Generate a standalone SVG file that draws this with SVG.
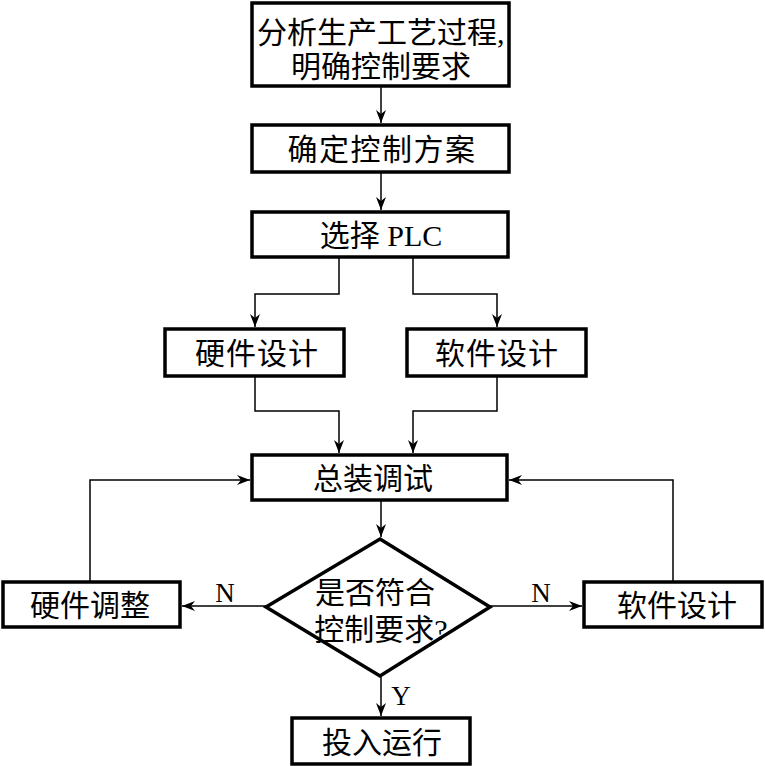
<svg xmlns="http://www.w3.org/2000/svg" width="765" height="766" viewBox="0 0 765 766">
<style>
.box{fill:#fff;stroke:#000;stroke-width:3.5}
.t{font-family:"Liberation Serif","Noto Sans CJK SC",serif;font-size:30px;fill:#000;text-anchor:middle}
.c{fill:none;stroke:#000;stroke-width:1.5}
</style>
<defs>
<marker id="ah" markerUnits="userSpaceOnUse" markerWidth="14" markerHeight="10" refX="13" refY="5" orient="auto">
<path d="M0,0 L13,5 L0,10 L4,5 z" fill="#000"/>
</marker>
</defs>
<rect width="765" height="766" fill="#fff"/>
<g id="connectors">
<path class="c" d="M381,86 V123" marker-end="url(#ah)"/>
<path class="c" d="M381,172 V210" marker-end="url(#ah)"/>
<path class="c" d="M339,257 V294 H255 V327" marker-end="url(#ah)"/>
<path class="c" d="M413,257 V294 H497 V327" marker-end="url(#ah)"/>
<path class="c" d="M255,376 V411 H339 V453" marker-end="url(#ah)"/>
<path class="c" d="M497,376 V411 H413 V453" marker-end="url(#ah)"/>
<path class="c" d="M381,500 V537" marker-end="url(#ah)"/>
<path class="c" d="M381,677 V716" marker-end="url(#ah)"/>
<path class="c" d="M267,606 H182" marker-end="url(#ah)"/>
<path class="c" d="M490,606 H582" marker-end="url(#ah)"/>
<path class="c" d="M90,581 V480 H250" marker-end="url(#ah)"/>
<path class="c" d="M673,581 V480 H509" marker-end="url(#ah)"/>
<text class="t" x="225" y="602" style="font-size:27px">N</text>
<text class="t" x="541" y="602" style="font-size:27px">N</text>
<text class="t" x="401" y="705" style="font-size:27px">Y</text>
</g>
<g id="n1"><rect class="box" x="252" y="3" width="257" height="83"/>
<text class="t" x="257" y="43" style="text-anchor:start">分析生产工艺过程,</text>
<text class="t" x="381" y="77">明确控制要求</text></g>
<g id="n2"><rect class="box" x="252" y="125" width="257" height="47"/>
<text class="t" x="382" y="160" style="letter-spacing:1.5px">确定控制方案</text></g>
<g id="n3"><rect class="box" x="252" y="212" width="256" height="45"/>
<text class="t" x="381" y="246">选择 PLC</text></g>
<g id="n4"><rect class="box" x="165" y="329" width="179" height="47"/>
<text class="t" x="257" y="364" style="letter-spacing:1px">硬件设计</text></g>
<g id="n5"><rect class="box" x="407" y="329" width="179" height="47"/>
<text class="t" x="497" y="364" style="letter-spacing:1px">软件设计</text></g>
<g id="n6"><rect class="box" x="252" y="455" width="255" height="45"/>
<text class="t" x="373" y="489">总装调试</text></g>
<g id="n7"><polygon points="380,539 490,607 380,676 266,607" fill="#fff" stroke="#000" stroke-width="3.5"/>
<text class="t" x="375" y="603">是否符合</text>
<text class="t" x="381" y="640">控制要求?</text></g>
<g id="n8"><rect class="box" x="3" y="582" width="177" height="45"/>
<text class="t" x="90" y="616">硬件调整</text></g>
<g id="n9"><rect class="box" x="584" y="582" width="178" height="45"/>
<text class="t" x="677" y="616">软件设计</text></g>
<g id="n10"><rect class="box" x="292" y="718" width="178" height="46"/>
<text class="t" x="382" y="753">投入运行</text></g>
</svg>
